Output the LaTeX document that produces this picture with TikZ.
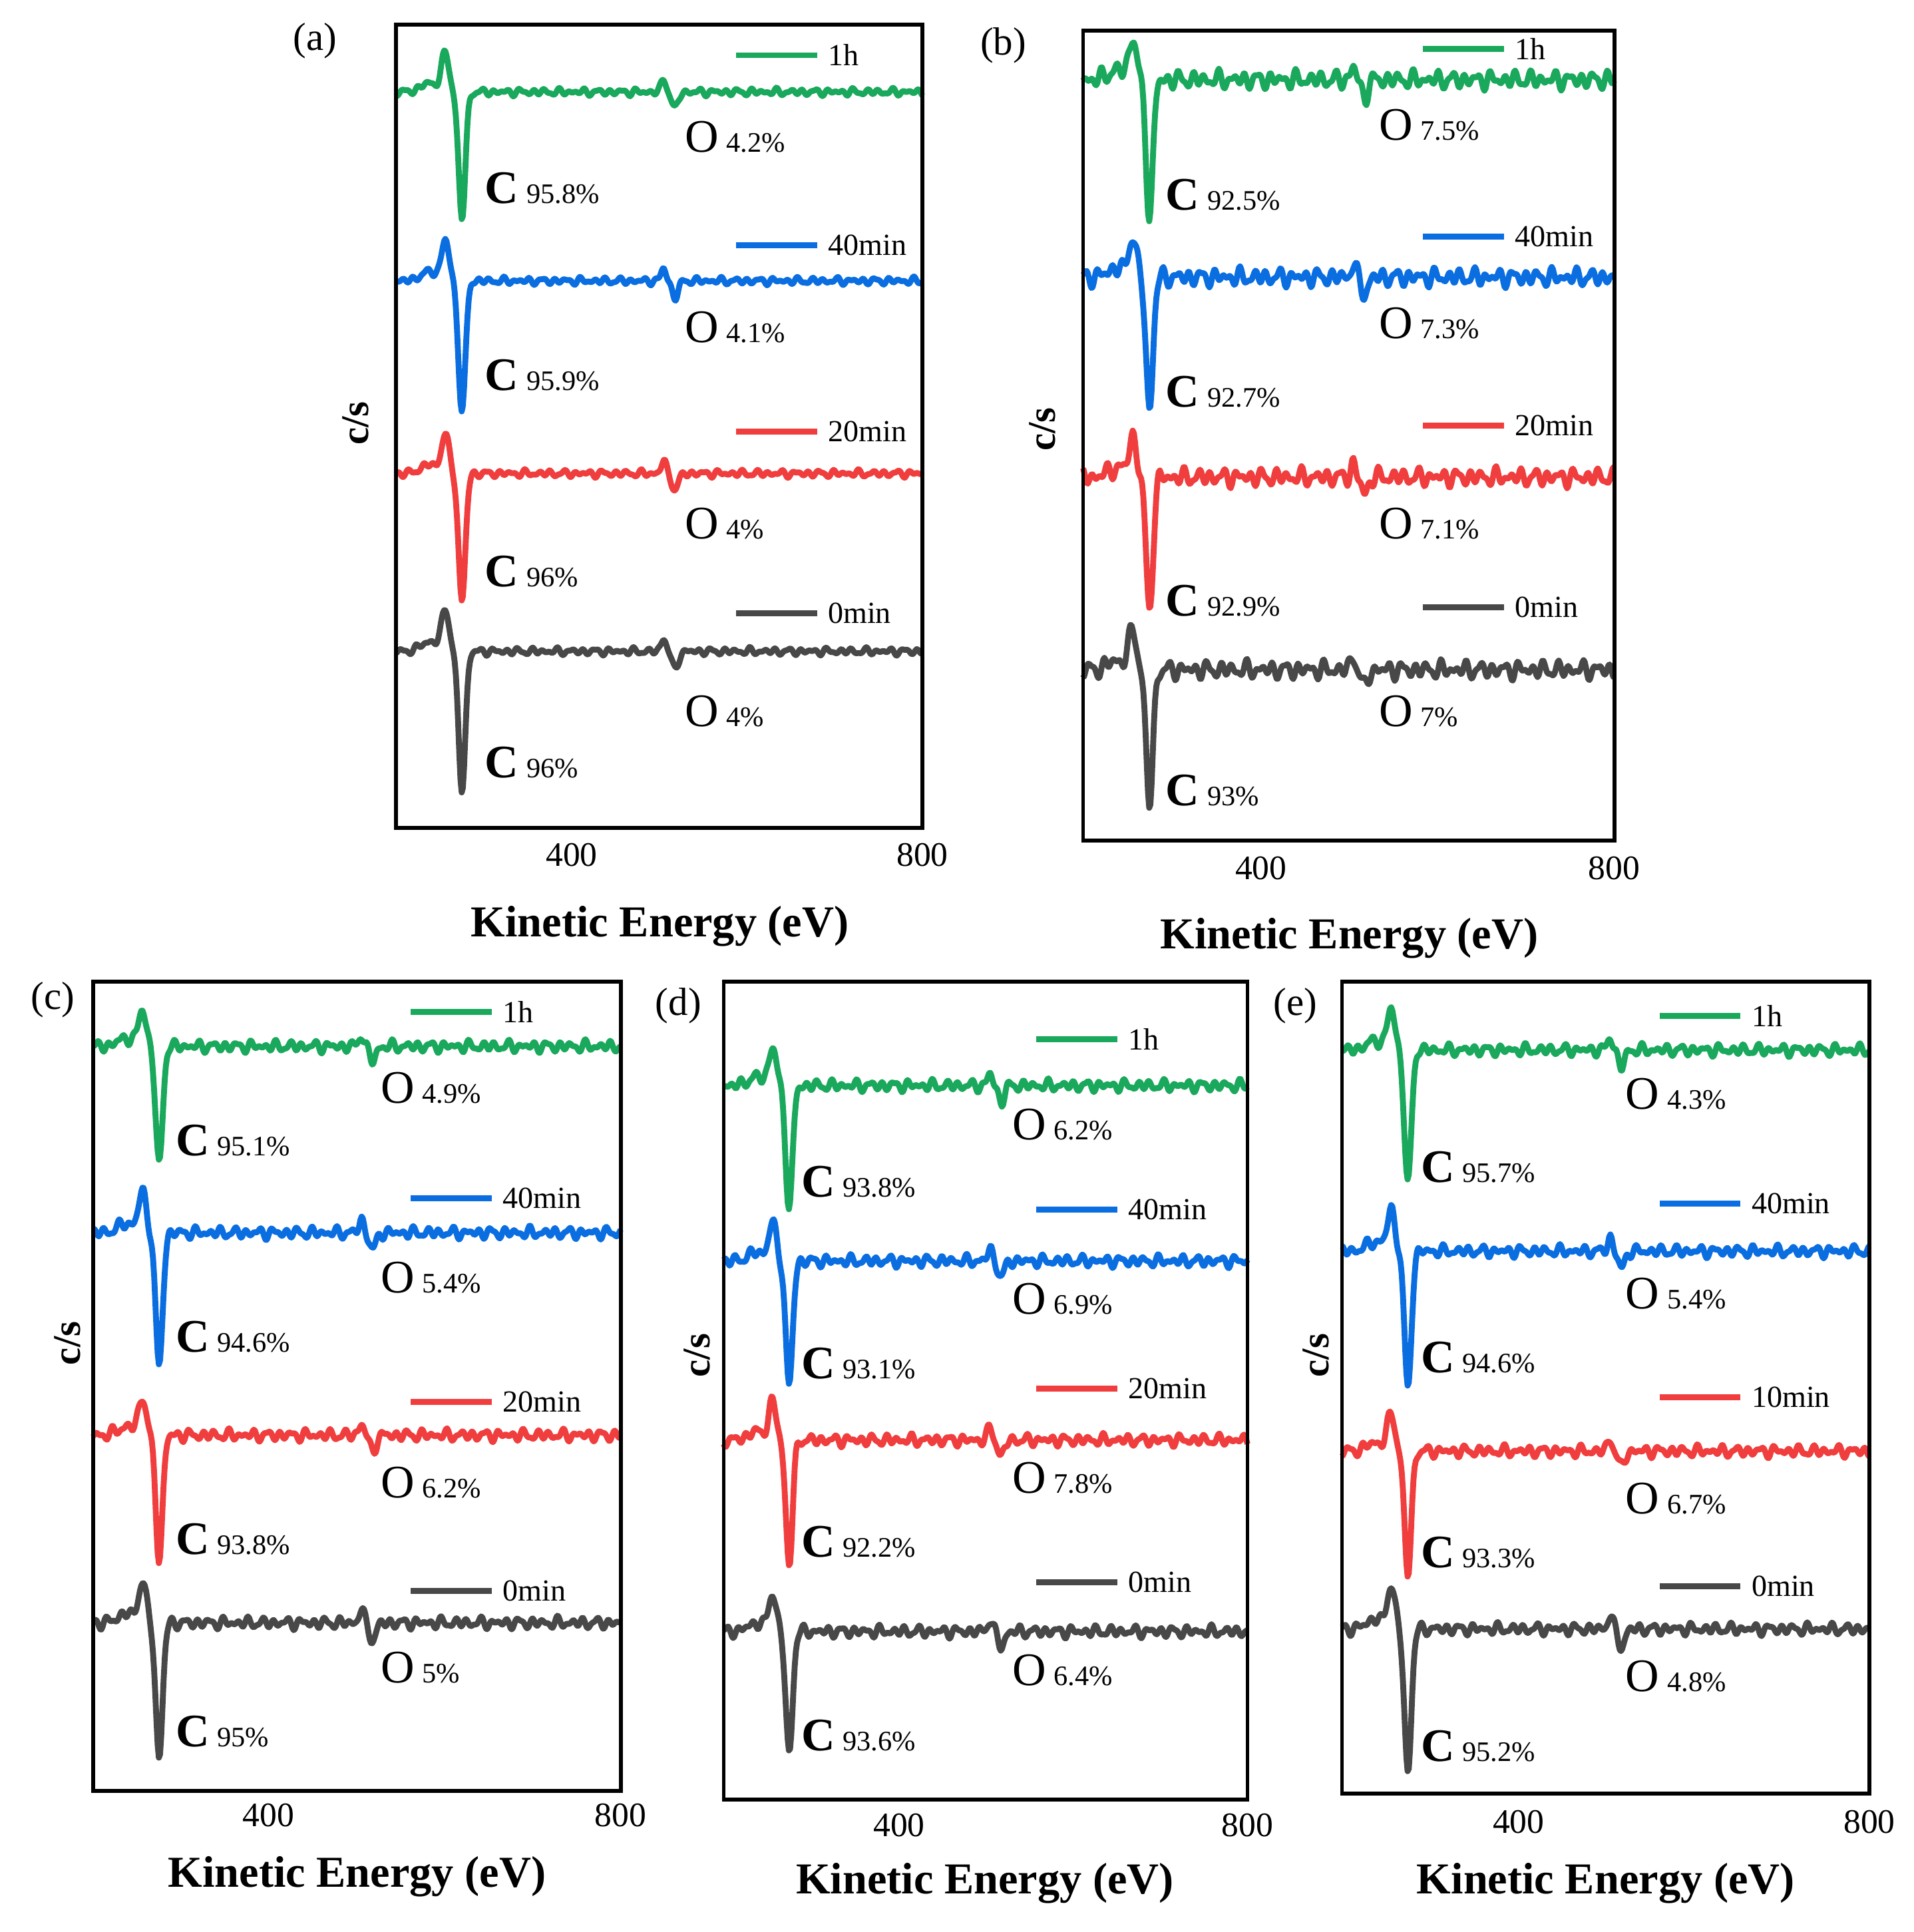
\documentclass[tikz,border=0pt]{standalone}
\usepackage{fontspec}
\setmainfont{Liberation Serif}
\definecolor{cg}{RGB}{26,168,92}
\definecolor{cb}{RGB}{10,110,225}
\definecolor{cr}{RGB}{240,62,62}
\definecolor{ck}{RGB}{72,72,72}
\newcommand\crv[7]{%
\draw[#5,line width=2.4,line join=round] plot[domain=200:800,samples=451]
 ({#1+(\x-200)/600*#2},{#3 + #4*gs((\x-275)/5.5) - 0.3*#4*gs((\x-256)/6) - 0.07*#4*gs((\x-238)/14)
 + 0.13*#4*(gs((\x-518)/5) - 0.75*gs((\x-505)/4))
 + #6*(nz((\x-200)/600,41,#7)+0.7*nz((\x-200)/600,63,#7*2)+0.6*nz((\x-200)/600,27,#7*3))});}
\newcommand\leg[5]{\draw[#4,line width=2.4] (#1,#2) -- ++(66,0) node[right,black,font=\fontsize{12.5}{12.5}\selectfont] {#5};}
\newcommand\olab[3]{\node[anchor=base west,inner sep=0] at (#1,#2) {\fontsize{19}{19}\selectfont O\,{\fontsize{11.5}{11.5}\selectfont #3\%}};}
\newcommand\clab[3]{\node[anchor=base west,inner sep=0] at (#1,#2) {\fontsize{19}{19}\selectfont\textbf{C}\,{\fontsize{11.5}{11.5}\selectfont #3\%}};}
\begin{document}
\begin{tikzpicture}[x=0.5pt,y=-0.5pt,declare function={nz(\t,\a,\p)=sin(360*mod(\a*\t+\p,1));gs(\u)=(abs(\u)<3)*exp(-min(\u*\u,9));},
 tick/.style={font=\fontsize{14}{14}\selectfont},
 xl/.style={font=\fontsize{18}{18}\selectfont\bfseries},
 yl/.style={font=\fontsize{16}{16}\selectfont\bfseries,rotate=90},
 pl/.style={font=\fontsize{16}{16}\selectfont}]
\useasboundingbox (0,0) rectangle (1560,1575);
% (a)
\node[pl] (pa) at (257,33) {(a)};
\crv{323}{429}{75}{103}{cg}{1.6}{0.1}
\crv{323}{429}{229}{108}{cb}{1.6}{0.4}
\crv{323}{429}{386}{104}{cr}{1.6}{0.7}
\crv{323}{429}{531}{113}{ck}{1.6}{0.2}
\draw[line width=1.6] (323,20) rectangle (752,675);
\leg{600}{45}{0}{cg}{1h}\leg{600}{200}{0}{cb}{40min}\leg{600}{352}{0}{cr}{20min}\leg{600}{500}{0}{ck}{0min}
\olab{558}{124}{4.2}\olab{558}{279}{4.1}\olab{558}{439}{4}\olab{558}{592}{4}
\clab{395}{166}{95.8}\clab{395}{318}{95.9}\clab{395}{478}{96}\clab{395}{634}{96}
\node[tick] at (466,697) {400};\node[tick] at (752,697) {800};
\node[xl] at (538,755) {Kinetic Energy (eV)};
\node[yl] at (290,345) {c/s};
% (b)
\node[pl] (pb) at (818,37) {(b)};
\crv{883}{433}{65}{110}{cg}{4}{0.3}
\crv{883}{433}{226}{108}{cb}{4}{0.6}
\crv{883}{433}{389}{108}{cr}{4}{0.9}
\crv{883}{433}{546}{109}{ck}{4}{0.15}
\draw[line width=1.6] (883,25) rectangle (1316,685);
\leg{1160}{40}{0}{cg}{1h}\leg{1160}{193}{0}{cb}{40min}\leg{1160}{347}{0}{cr}{20min}\leg{1160}{495}{0}{ck}{0min}
\olab{1124}{114}{7.5}\olab{1124}{276}{7.3}\olab{1124}{439}{7.1}\olab{1124}{592}{7}
\clab{950}{171}{92.5}\clab{950}{332}{92.7}\clab{950}{502}{92.9}\clab{950}{657}{93}
\node[tick] at (1028,708) {400};\node[tick] at (1316,708) {800};
\node[xl] at (1100,765) {Kinetic Energy (eV)};
\node[yl] at (850,350) {c/s};
% (c)
\node[pl] (pc) at (43,815) {(c)};
\crv{76}{430}{853}{97}{cg}{2.6}{0.5}
\crv{76}{430}{1005}{110}{cb}{2.6}{0.8}
\crv{76}{430}{1170}{100}{cr}{2.6}{0.25}
\crv{76}{430}{1323}{110}{ck}{2.6}{0.65}
\draw[line width=1.6] (76,800) rectangle (506,1460);
\leg{335}{825}{0}{cg}{1h}\leg{335}{977}{0}{cb}{40min}\leg{335}{1143}{0}{cr}{20min}\leg{335}{1297}{0}{ck}{0min}
\olab{310}{899}{4.9}\olab{310}{1054}{5.4}\olab{310}{1221}{6.2}\olab{310}{1372}{5}
\clab{143}{942}{95.1}\clab{143}{1102}{94.6}\clab{143}{1267}{93.8}\clab{143}{1424}{95}
\node[tick] at (219,1480) {400};\node[tick] at (506,1480) {800};
\node[xl] at (291,1530) {Kinetic Energy (eV)};
\node[yl] at (55,1095) {c/s};
% (d)
\node[pl] (pd) at (553,820) {(d)};
\crv{590}{427}{885}{100}{cg}{2.6}{0.35}
\crv{590}{427}{1028}{102}{cb}{2.6}{0.75}
\crv{590}{427}{1174}{101}{cr}{2.6}{0.05}
\crv{590}{427}{1330}{100}{ck}{2.6}{0.55}
\draw[line width=1.6] (590,800) rectangle (1017,1467);
\leg{845}{847}{0}{cg}{1h}\leg{845}{986}{0}{cb}{40min}\leg{845}{1132}{0}{cr}{20min}\leg{845}{1290}{0}{ck}{0min}
\olab{825}{929}{6.2}\olab{825}{1071}{6.9}\olab{825}{1217}{7.8}\olab{825}{1374}{6.4}
\clab{653}{976}{93.8}\clab{653}{1124}{93.1}\clab{653}{1269}{92.2}\clab{653}{1427}{93.6}
\node[tick] at (733,1488) {400};\node[tick] at (1017,1488) {800};
\node[xl] at (803,1535) {Kinetic Energy (eV)};
\node[yl] at (568,1105) {c/s};
% (e)
\node[pl] (pe) at (1056,820) {(e)};
\crv{1094}{430}{856}{110}{cg}{2.6}{0.45}
\crv{1094}{430}{1020}{112}{cb}{2.6}{0.85}
\crv{1094}{430}{1183}{100}{cr}{2.6}{0.15}
\crv{1094}{430}{1328}{117}{ck}{2.6}{0.6}
\draw[line width=1.6] (1094,800) rectangle (1524,1462);
\leg{1353}{828}{0}{cg}{1h}\leg{1353}{981}{0}{cb}{40min}\leg{1353}{1139}{0}{cr}{10min}\leg{1353}{1293}{0}{ck}{0min}
\olab{1325}{904}{4.3}\olab{1325}{1067}{5.4}\olab{1325}{1234}{6.7}\olab{1325}{1379}{4.8}
\clab{1158}{964}{95.7}\clab{1158}{1119}{94.6}\clab{1158}{1278}{93.3}\clab{1158}{1436}{95.2}
\node[tick] at (1238,1485) {400};\node[tick] at (1524,1485) {800};
\node[xl] at (1309,1535) {Kinetic Energy (eV)};
\node[yl] at (1073,1105) {c/s};
\end{tikzpicture}
\end{document}
